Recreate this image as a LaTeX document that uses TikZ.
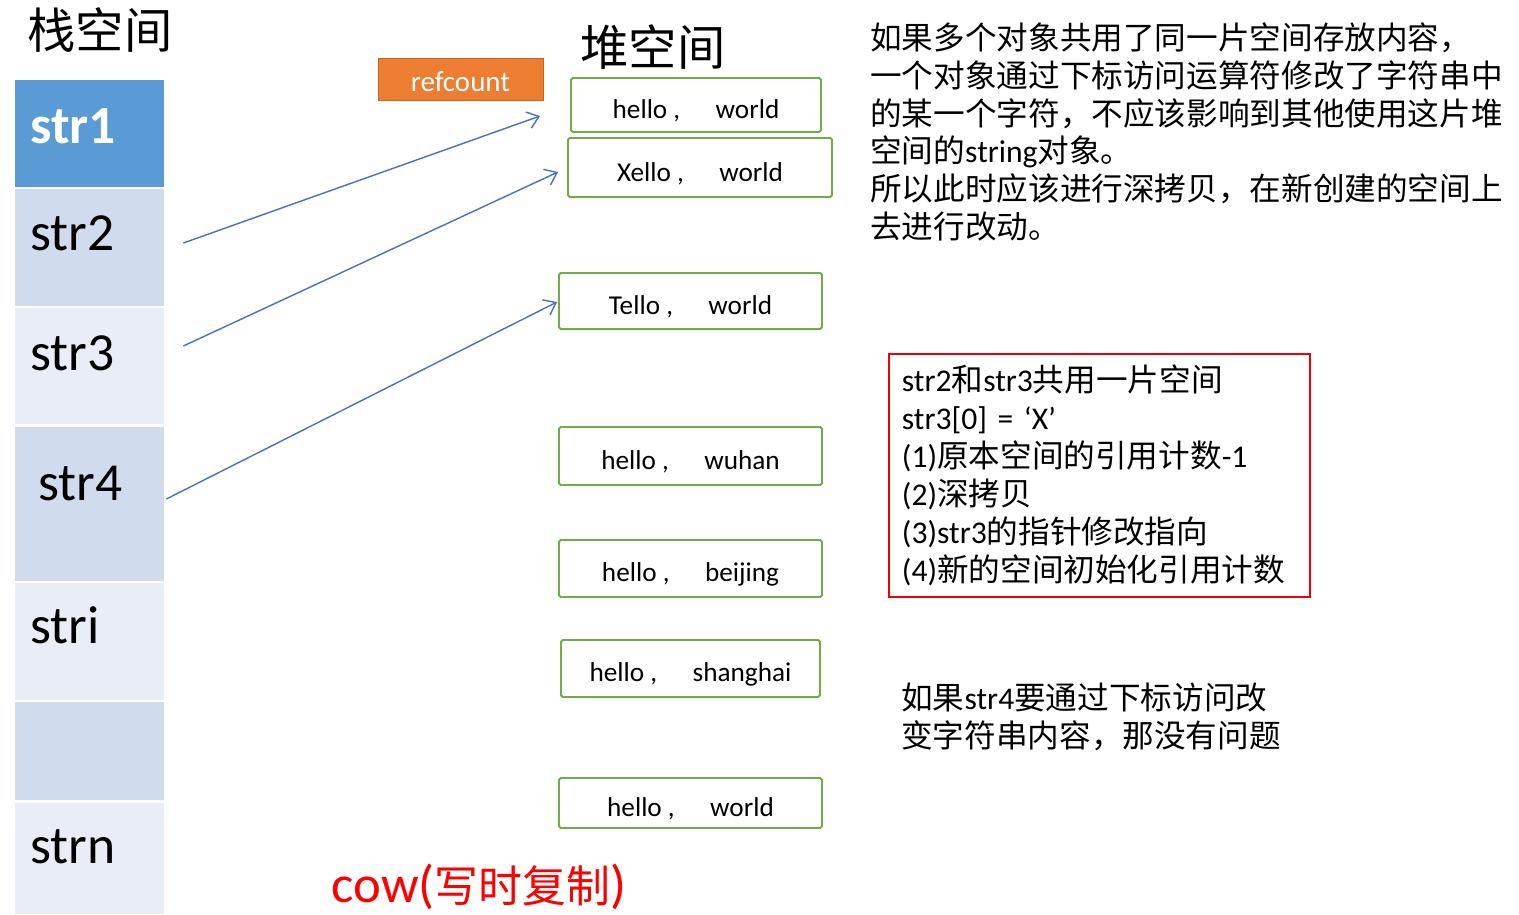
\documentclass[tikz,border=0pt]{standalone}
\usepackage{fontspec}
\setmainfont{Carlito}
\newfontfamily\cjk{Noto Sans CJK SC}
\usetikzlibrary{arrows.meta,positioning,calc}

\definecolor{stkdark}{HTML}{5B9BD5}
\definecolor{stkmid}{HTML}{D0DCEE}
\definecolor{stklight}{HTML}{E9EEF6}
\definecolor{heapgreen}{HTML}{70AD47}
\definecolor{ptrblue}{HTML}{4472C4}
\definecolor{reforange}{HTML}{ED7D31}
\definecolor{refedge}{HTML}{C8641E}
\definecolor{notered}{HTML}{F00000}
\definecolor{cowred}{HTML}{FF0000}

\def\pxu{0.02cm}
\newcommand{\zh}[1]{{\cjk #1}}
\newcommand{\kv}[2]{\raisebox{-0.12cm}[\height][\depth]{#1\ ,\hspace{1.3em}#2}}

\begin{document}
\begin{tikzpicture}[
      x=0.02cm,y=-0.02cm,
      cell/.style={draw=none,minimum width=149*\pxu,inner sep=0pt},
      stklbl/.style={anchor=base west,inner sep=0pt,font=\fontsize{30.5}{36}\selectfont},
      heapbox/.style={draw=heapgreen,line width=1.1pt,rounded corners=1pt,fill=white,
        inner sep=0pt,font=\fontsize{15.5}{18}\selectfont},
      ptr/.style={ptrblue,line width=0.8pt,-{Straight Barb[length=2.2mm,width=3.4mm]}},
      note/.style={anchor=north west,inner sep=0pt,align=left,
        font=\fontsize{18}{21.6}\selectfont},
      title/.style={font=\cjk\fontsize{27.5}{32}\selectfont,inner sep=0pt}
    ]
      \useasboundingbox[fill=white] (0,0) rectangle (1519,914);

      % stack
      \node[title] (stackttl) at (100,30) {栈空间};
      \foreach \nm/\ta/\tb/\col in {str1/80/187/stkdark,str2/189/306/stkmid,
          str3/308/424/stklight,str4/427/581/stkmid,stri/583/700/stklight,
          strgap/702/800/stkmid,strn/803/914/stklight} {
        \node[cell,fill=\col,minimum height={(\tb-\ta)*\pxu}] (\nm) at (89.5,{(\ta+\tb)/2}) {};
      }
      \node[stklbl,text=white,font=\fontsize{30.5}{36}\selectfont\bfseries] (lbl1) at (30,143) {str1};
      \node[stklbl] (lbl2) at (30,250) {str2};
      \node[stklbl] (lbl3) at (30,370) {str3};
      \node[stklbl] (lbl4) at (38,500) {str4};
      \node[stklbl] (lbli) at (30,643) {stri};
      \node[stklbl] (lbln) at (30,863) {strn};

      % heap
      \node[title] (heapttl) at (653,47) {堆空间};
      \node[draw=refedge,fill=reforange,text=white,inner sep=0pt,
        minimum width=165*\pxu,minimum height=42*\pxu,
        font=\fontsize{16.5}{20}\selectfont] (refcnt) at (460.5,79)
        {\raisebox{-0.06cm}[\height][\depth]{refcount}};
      \foreach \nm/\xa/\ya/\xb/\yb/\ka/\kb in {heap1/571/78/821/132/hello/world,
          heap2/568/138/832/197/Xello/world,heap3/559/273/822/329/Tello/world,
          heap4/559/427/822/485/hello/wuhan,heap5/559/540/822/597/hello/beijing,
          heap6/561/640/820/697/hello/shanghai,heap7/559/778/822/828/hello/world} {
        \node[heapbox,minimum width={(\xb-\xa)*\pxu},minimum height={(\yb-\ya)*\pxu}]
          (\nm) at ({(\xa+\xb)/2},{(\ya+\yb)/2}) {\kv{\ka}{\kb}};
      }

      % pointers
      \draw[ptr] ($(str2.east)+(19,-4.5)$) -- ($(heap1.west)+(-30,11)$);
      \draw[ptr] ($(str3.east)+(19,-20)$) -- ($(heap2.west)+(-9,4.5)$);
      \draw[ptr] ($(str4.east)+(2,-5)$) -- ($(heap3.west)+(-1,1)$);

      % notes
      \node[note] (para1) at (870,22) {\zh{如果多个对象共用了同一片空间存放内容，}\\
        \zh{一个对象通过下标访问运算符修改了字符串中}\\
        \zh{的某一个字符，不应该影响到其他使用这片堆}\\
        \zh{空间的}string\zh{对象。}\\
        \zh{所以此时应该进行深拷贝，在新创建的空间上}\\
        \zh{去进行改动。}};
      \node[note,draw=notered,line width=1.1pt,inner xsep=13*\pxu,
        text width=395*\pxu,minimum height=243*\pxu] (steps) at (888,353) {%
        str2\zh{和}str3\zh{共用一片空间}\\
        str3[0] = ‘X’\\
        (1)\zh{原本空间的引用计数}-1\\
        (2)\zh{深拷贝}\\
        (3)str3\zh{的指针修改指向}\\
        (4)\zh{新的空间初始化引用计数}};
      \node[note] (para2) at (901,683) {\zh{如果}str4\zh{要通过下标访问改}\\
        \zh{变字符串内容，那没有问题}};

      \node[text=cowred,inner sep=0pt,font=\fontsize{30}{34}\selectfont] (cow) at (479,887)
        {cow(\zh{\fontsize{25}{30}\selectfont 写时复制})};
    \end{tikzpicture}
\end{document}
